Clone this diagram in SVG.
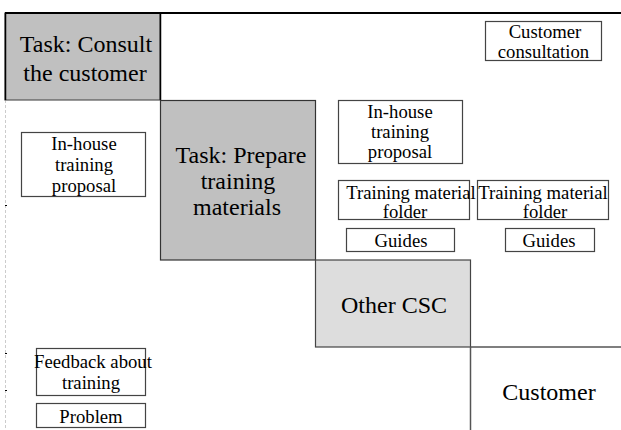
<svg xmlns="http://www.w3.org/2000/svg" width="621" height="430" viewBox="0 0 621 430" font-family="'Liberation Serif', 'DejaVu Serif', serif">
<style>
text{font-family:'Liberation Serif','DejaVu Serif',serif;fill:#000;text-anchor:middle}
.big{font-size:24px}
.sm{font-size:18.7px}
.box{fill:#fff;stroke:#444;stroke-width:1.2}
.ln{stroke:#555;stroke-width:1.5;fill:none}
</style>
<rect width="621" height="430" fill="#fff"/>
<g id="frame">
<line x1="5.5" y1="100" x2="5.5" y2="430" stroke="#ccc" stroke-width="1" stroke-dasharray="3,2"/>
<line x1="5" y1="205.5" x2="7" y2="205.5" stroke="#000"/>
<line x1="5" y1="353.5" x2="7" y2="353.5" stroke="#000"/>
<line x1="5" y1="390.5" x2="7" y2="390.5" stroke="#000"/>
</g>
<g id="task-consult">
<rect x="5" y="13" width="155" height="87" fill="#c0c0c0" stroke="#555" stroke-width="1.2"/>
<line x1="160.5" y1="13" x2="160.5" y2="100" stroke="#000" stroke-width="1.5"/>
<line x1="5.5" y1="13" x2="5.5" y2="100" stroke="#000" stroke-width="1.5"/>
<text class="big" x="86" y="52">Task: Consult</text>
<text class="big" x="85" y="81">the customer</text>
</g>
<g id="task-prepare">
<rect x="160.5" y="100.5" width="155" height="159.5" fill="#c0c0c0" stroke="#333" stroke-width="1.2"/>
<text class="big" x="241" y="163">Task: Prepare</text>
<text class="big" x="238" y="189">training</text>
<text class="big" x="237" y="215">materials</text>
</g>
<g id="other-csc">
<rect x="315.5" y="260" width="155" height="87" fill="#dddddd" stroke="#444" stroke-width="1.2"/>
<text class="big" x="394" y="313">Other CSC</text>
</g>
<g id="customer">
<text class="big" x="549" y="400">Customer</text>
</g>
<g id="connectors">
<line x1="5" y1="13" x2="621" y2="13" stroke="#000" stroke-width="2"/>
<line class="ln" x1="470.5" y1="347" x2="621" y2="347"/>
<line class="ln" x1="470.5" y1="347" x2="470.5" y2="430"/>
</g>
<g id="customer-consultation">
<rect class="box" x="485.5" y="21.5" width="116" height="39"/>
<text class="sm" x="545" y="38">Customer</text>
<text class="sm" x="543.5" y="58">consultation</text>
</g>
<g id="inhouse-left">
<rect class="box" x="21.5" y="132.5" width="124" height="64"/>
<text class="sm" x="84" y="150">In-house</text>
<text class="sm" x="84" y="171">training</text>
<text class="sm" x="84" y="192">proposal</text>
</g>
<g id="inhouse-right">
<rect class="box" x="338.5" y="100.5" width="124" height="63"/>
<text class="sm" x="400" y="118">In-house</text>
<text class="sm" x="400" y="138">training</text>
<text class="sm" x="400" y="158">proposal</text>
</g>
<g id="folder-1">
<rect class="box" x="338.5" y="180.5" width="131" height="39"/>
<text class="sm" x="411" y="199">Training material</text>
<text class="sm" x="405" y="218">folder</text>
</g>
<g id="folder-2">
<rect class="box" x="477.5" y="180.5" width="131" height="39"/>
<text class="sm" x="543" y="199">Training material</text>
<text class="sm" x="545" y="218">folder</text>
</g>
<g id="guides-1">
<rect class="box" x="346.5" y="228.5" width="108" height="23"/>
<text class="sm" x="401" y="247">Guides</text>
</g>
<g id="guides-2">
<rect class="box" x="505.5" y="228.5" width="89" height="23"/>
<text class="sm" x="549" y="247">Guides</text>
</g>
<g id="feedback">
<rect class="box" x="36.5" y="348.5" width="109" height="47"/>
<text class="sm" x="93" y="368">Feedback about</text>
<text class="sm" x="91" y="389">training</text>
</g>
<g id="problem">
<rect class="box" x="36.5" y="403.5" width="109" height="24"/>
<text class="sm" x="91" y="423">Problem</text>
</g>
</svg>
